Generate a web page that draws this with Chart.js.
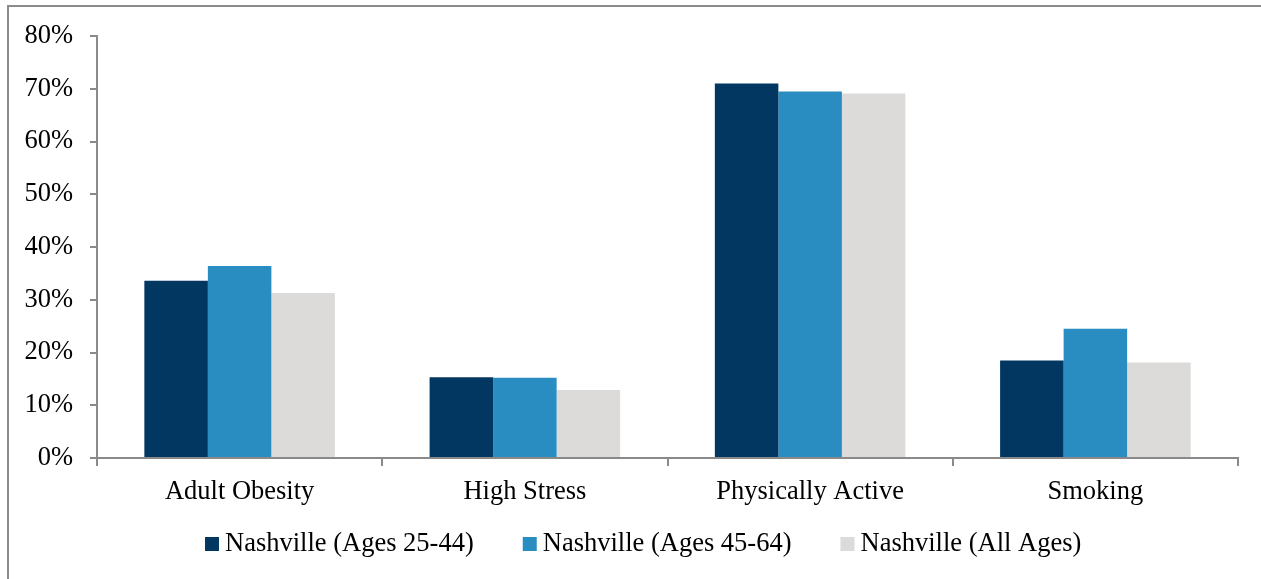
<!DOCTYPE html>
<html>
<head>
<meta charset="utf-8">
<script src="https://cdn.jsdelivr.net/npm/chart.js@4"></script>
<style>
  html, body { margin: 0; padding: 0; background: #ffffff; }
  #wrap { width: 1261px; height: 579px; position: relative; }
</style>
</head>
<body>
<div id="wrap"><canvas id="c" width="1261" height="579"></canvas></div>
<script>
// Health indicators, Nashville
const categories = ['Adult Obesity', 'High Stress', 'Physically Active', 'Smoking'];
const ages25to44 = [33.6, 15.3, 71.0, 18.5];
const ages45to64 = [36.4, 15.2, 69.5, 24.5];
const allAges    = [31.3, 12.9, 69.1, 18.1];
const seriesNames = ['Nashville (Ages 25-44)', 'Nashville (Ages 45-64)', 'Nashville (All Ages)'];
const yTicks = [0, 10, 20, 30, 40, 50, 60, 70, 80];

const SERIF = '"Liberation Serif", "Times New Roman", serif';
const FONT_SIZE = 26.5;
const AXIS_GREY = '#8a8a8a';

// Outer frame: top and left edges of the surrounding box
const framePlugin = {
  id: 'frame',
  beforeDraw(chart) {
    const ctx = chart.ctx;
    ctx.save();
    ctx.strokeStyle = '#8c8c8c';
    ctx.lineWidth = 2;
    ctx.beginPath();
    ctx.moveTo(8, 579);
    ctx.lineTo(8, 6);
    ctx.lineTo(1261, 6);
    ctx.stroke();
    ctx.restore();
  }
};

// Legend row below the axis: square swatch, short gap, series name
const legendRowPlugin = {
  id: 'legendRow',
  afterDraw(chart) {
    const ctx = chart.ctx;
    const box = 14, gap = 6, spacing = 49;
    const startX = 205, centerY = 544;
    ctx.save();
    ctx.font = FONT_SIZE + 'px ' + SERIF;
    ctx.textBaseline = 'middle';
    ctx.textAlign = 'left';
    let x = startX;
    chart.data.datasets.forEach(ds => {
      ctx.fillStyle = ds.backgroundColor;
      ctx.fillRect(x, centerY - box / 2, box, box);
      x += box + gap;
      ctx.fillStyle = '#000000';
      ctx.fillText(ds.label, x, centerY);
      x += ctx.measureText(ds.label).width + spacing;
    });
    ctx.restore();
  }
};

new Chart(document.getElementById('c'), {
  type: 'bar',
  data: {
    labels: categories,
    datasets: [
      { label: seriesNames[0], data: ages25to44, backgroundColor: '#023761' },
      { label: seriesNames[1], data: ages45to64, backgroundColor: '#2a8dc1' },
      { label: seriesNames[2], data: allAges,    backgroundColor: '#dcdbd9' }
    ]
  },
  options: {
    responsive: false,
    animation: false,
    devicePixelRatio: 1,
    layout: { padding: { left: 0, right: 23, top: 36, bottom: 61 } },
    datasets: {
      bar: { categoryPercentage: 0.668, barPercentage: 1.0, borderWidth: 0 }
    },
    plugins: {
      tooltip: { enabled: false },
      legend: { display: false }
    },
    scales: {
      x: {
        offset: true,
        grid: {
          offset: true,
          drawOnChartArea: false,
          drawTicks: true,
          tickLength: 8,
          color: AXIS_GREY,
          lineWidth: 2
        },
        border: { display: true, color: AXIS_GREY, width: 2 },
        ticks: {
          color: '#000000',
          font: { family: SERIF, size: FONT_SIZE },
          padding: 10
        },
        afterFit(scale) { scale.height = 60; }
      },
      y: {
        min: 0,
        max: 80,
        afterBuildTicks(scale) { scale.ticks = yTicks.map(v => ({ value: v })); },
        grid: {
          drawOnChartArea: false,
          drawTicks: true,
          tickLength: 7,
          color: AXIS_GREY,
          lineWidth: 2
        },
        border: { display: true, color: AXIS_GREY, width: 2 },
        ticks: {
          color: '#000000',
          font: { family: SERIF, size: FONT_SIZE },
          padding: 17,
          callback: v => v + '%'
        },
        afterFit(scale) { scale.width = 97; }
      }
    }
  },
  plugins: [framePlugin, legendRowPlugin]
});
</script>
</body>
</html>
